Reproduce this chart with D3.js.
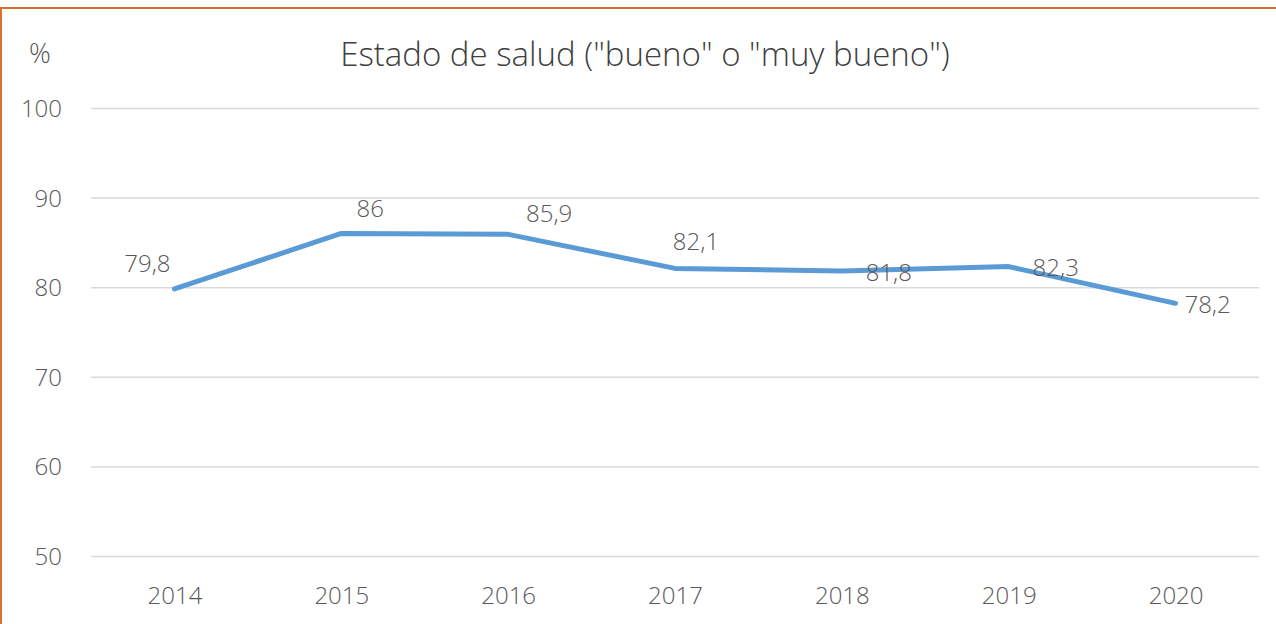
<!DOCTYPE html>
<html><head><meta charset="utf-8">
<script src="https://cdn.jsdelivr.net/npm/d3@7"></script>
<style>body{margin:0;background:#fff;} svg{display:block;}</style>
</head><body>
<svg id="c" width="1276" height="624"></svg>
<script>
const years = ["2014","2015","2016","2017","2018","2019","2020"];
const values = [79.8, 86, 85.9, 82.1, 81.8, 82.3, 78.2];
const valueLabels = ["79,8","86","85,9","82,1","81,8","82,3","78,2"];
const yTicks = [50, 60, 70, 80, 90, 100];
const title = 'Estado de salud ("bueno" o "muy bueno")';
const yUnit = "%";
// label offsets (dx, dy) relative to point, styling only
const labelOffsets = [[-27,-25],[29,-25],[41,-21],[21,-27],[47,2],[47,1],[32,1]];

const svg = d3.select("#c");
const font = "'Open Sans', sans-serif";
const grey = "#595959";

svg.append("rect").attr("x",1).attr("y",8).attr("width",1290).attr("height",640)
  .attr("fill","none").attr("stroke","#D9712E").attr("stroke-width",2);

const x = d3.scalePoint().domain(years).range([91,1259]).padding(0.5);
const y = d3.scaleLinear().domain([50,100]).range([556,108]);

const gy = svg.append("g").attr("transform","translate(91,0)")
  .call(d3.axisLeft(y).tickValues(yTicks).tickSize(-1168).tickPadding(29));
gy.select(".domain").remove();
gy.selectAll(".tick line").attr("stroke","#d9d9d9").attr("stroke-width",1.5);
gy.selectAll(".tick text").attr("fill",grey).style("font-family",font).style("font-size","24px").style("font-weight",300).attr("dy","0.35em");

const gx = svg.append("g").attr("transform","translate(0,556)")
  .call(d3.axisBottom(x).tickSize(0).tickPadding(34));
gx.select(".domain").remove();
gx.selectAll(".tick text").attr("fill",grey).style("font-family",font).style("font-size","24px").style("font-weight",300).attr("dy","0.6em");

svg.append("text").attr("x",40).attr("y",54).attr("text-anchor","middle").attr("dy","0.35em")
  .attr("fill",grey).style("font-family",font).style("font-size","27px").style("font-weight",300).text(yUnit);

svg.append("text").attr("x",645).attr("y",54).attr("text-anchor","middle").attr("dy","0.35em")
  .attr("fill","#404040").style("font-family",font).style("font-size","33px").style("font-weight",300).text(title);

const line = d3.line().x((d,i)=>x(years[i])).y(d=>y(d));
svg.append("path").datum(values).attr("d",line).attr("fill","none")
  .attr("stroke","#5B9BD5").attr("stroke-width",5).attr("stroke-linejoin","round").attr("stroke-linecap","round");

svg.append("g").selectAll("text").data(values).join("text")
  .attr("x",(d,i)=>x(years[i])+labelOffsets[i][0])
  .attr("y",(d,i)=>y(d)+labelOffsets[i][1])
  .attr("text-anchor","middle").attr("dy","0.35em")
  .attr("fill",grey).style("font-family",font).style("font-size","24px").style("font-weight",300)
  .text((d,i)=>valueLabels[i]);
</script>
</body></html>
